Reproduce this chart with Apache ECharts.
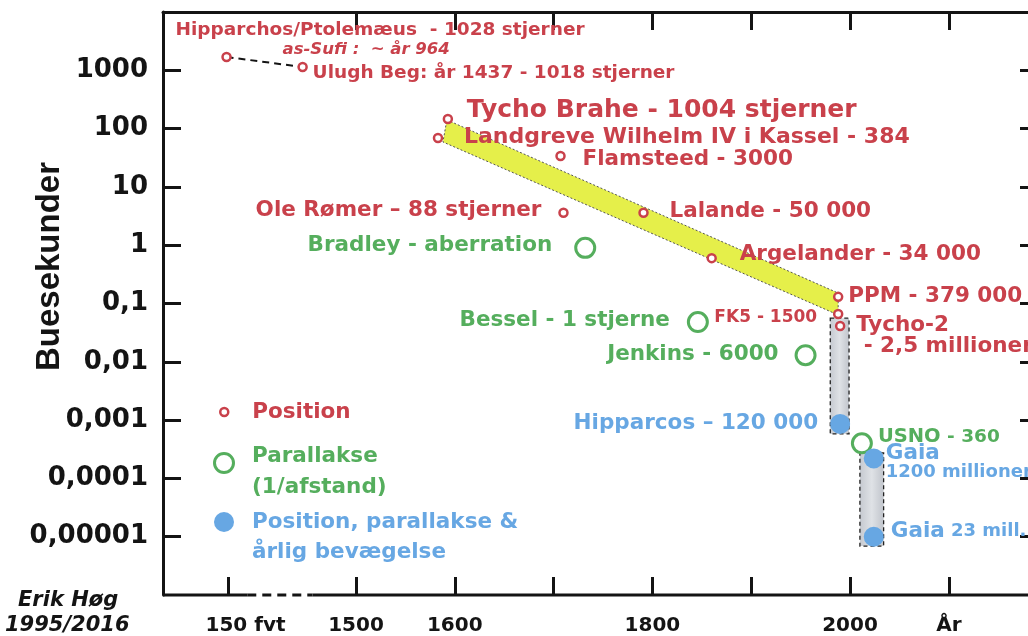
<!DOCTYPE html>
<html><head><meta charset="utf-8">
<script src="https://cdn.jsdelivr.net/npm/echarts@6/dist/echarts.min.js"></script>
<style>html,body{margin:0;padding:0;background:#fff}#c{width:1028px;height:636px}</style>
</head><body><div id="c"></div>
<script>
// ---------- data ----------
// x positions are years; the part before 1500 is a broken axis, so "150 fvt" has a stand-in position
const xTickValues = [1371, 1500, 1600, 1700, 1800, 1900, 2000, 2100];
const xTickLabels = ['150 fvt', '1500', '1600', '', '1800', '', '2000', 'År'];
const xTopTickValues = [1500, 1600, 1700, 1800, 1900, 2000, 2100];
const xBreak = [1390, 1456];
const yTickExponents = [-5, -4, -3, -2, -1, 0, 1, 2, 3];
const yTickLabels = ['0,00001', '0,0001', '0,001', '0,01', '0,1', '1', '10', '100', '1000'];

// Position (red small circles)
const posLabels = ['Hipparchos/Ptolemæus  - 1028 stjerner\nas-Sufi :  ~ år 964', 'Ulugh Beg: år 1437 - 1018 stjerner',
  'Tycho Brahe - 1004 stjerner', 'Landgreve Wilhelm IV i Kassel - 384', 'Flamsteed - 3000', 'Ole Rømer – 88 stjerner',
  'Lalande - 50 000', 'Argelander - 34 000', 'PPM - 379 000', 'FK5 - 1500', 'Tycho-2\n - 2,5 millioner'];
const posYears = [1369, 1446, 1593, 1583, 1707, 1710, 1791, 1860, 1988, 1988, 1990];
const posValues = [1690, 1140, 146, 69, 34, 3.6, 3.6, 0.6, 0.13, 0.066, 0.041];

// Parallax (green rings)
const parLabels = ['Bradley - aberration', 'Bessel - 1 stjerne', 'Jenkins - 6000', 'USNO - 360'];
const parYears = [1732, 1846, 1955, 2012];
const parValues = [0.9, 0.048, 0.013, 0.0004];

// Position, parallax & proper motion (blue dots)
const fullLabels = ['Hipparcos – 120 000', 'Gaia\n1200 millioner', 'Gaia 23 mill.'];
const fullYears = [1990, 2024, 2024];
const fullValues = [0.00086, 0.00022, 0.00001];

// yellow trend band (corners) and grey ranges [x0, x1, yTop, yBottom]
const bandCorners = [[1592, 141], [1988, 0.151], [1988, 0.0636], [1588, 59]];
const grayBoxes = [[1980, 1999, 0.056, 0.00058], [2010, 2034, 0.000273, 0.0000069]];

// ---------- styling ----------
const RED = '#c9414b', GREEN = '#55ae5d', BLUE = '#67a7e3', INK = '#141414';
const FONT = 'DejaVu Sans';
const XMIN = 1304.7, XMAX = 2187.2, YMIN = 1e-6, YMAX = 1e4;
const yTickValues = yTickExponents.map(e => Math.pow(10, e));

const posLayout = [
  {dx: -51, dy: -17, fs: 18.5, kind: 'hip'},
  {dx: 10, dy: 6, fs: 18.5},
  {dx: 19, dy: -9, fs: 25},
  {dx: 26, dy: -1, fs: 22},
  {dx: 22, dy: 4},
  {dx: -22, dy: -2, align: 'right'},
  {dx: 26, dy: -1},
  {dx: 28, dy: -4},
  {dx: 10, dy: 0},
  {dx: -21, dy: 4, fs: 17, align: 'right'},
  {dx: 16, dy: 9.5, lh: 21}
];
const parLayout = [
  {dx: -33, dy: -2, align: 'right'},
  {dx: -28, dy: -2, align: 'right'},
  {dx: -27, dy: -1, align: 'right'},
  {dx: 16, dy: -6, kind: 'usno'}
];
const fullLayout = [
  {dx: -22, dy: 0, align: 'right'},
  {dx: 12, dy: 4.5, kind: 'gaia'},
  {dx: 17, dy: -5, kind: 'gaia23'}
];

function mkLabel(text, lay, color) {
  const base = {fontFamily: FONT, fontWeight: 'bold', color: color};
  const lab = {
    show: true, position: 'inside', align: lay.align || 'left', verticalAlign: 'middle',
    offset: [lay.dx, lay.dy], color: color, fontFamily: FONT, fontWeight: 'bold',
    fontSize: lay.fs || 21.5, textBorderWidth: 0, formatter: text
  };
  if (lay.lh) lab.lineHeight = lay.lh;
  const lines = text.split('\n');
  if (lay.kind === 'hip') {
    lab.formatter = '{a|' + lines[0] + '}\n{b|' + lines[1] + '}';
    lab.rich = {
      a: Object.assign({}, base, {fontSize: 18.5, lineHeight: 20}),
      b: Object.assign({}, base, {fontSize: 16.5, fontStyle: 'italic', lineHeight: 20, padding: [0, 0, 0, 107]})
    };
  } else if (lay.kind === 'gaia') {
    lab.formatter = '{a|' + lines[0] + '}\n{b|' + lines[1] + '}';
    lab.rich = {
      a: Object.assign({}, base, {fontSize: 21.5, lineHeight: 19}),
      b: Object.assign({}, base, {fontSize: 18, lineHeight: 19})
    };
  } else if (lay.kind === 'gaia23') {
    const i = text.indexOf(' ');
    lab.formatter = '{a|' + text.slice(0, i) + '}{b|' + text.slice(i) + '}';
    lab.rich = {a: Object.assign({}, base, {fontSize: 21.5}), b: Object.assign({}, base, {fontSize: 18})};
  } else if (lay.kind === 'usno') {
    const i = text.indexOf(' ');
    lab.formatter = '{a|' + text.slice(0, i) + '}{b|' + text.slice(i) + '}';
    lab.rich = {a: Object.assign({}, base, {fontSize: 19.5}), b: Object.assign({}, base, {fontSize: 18.5})};
  }
  return lab;
}
function mkData(years, values, labels, layout, color) {
  return years.map((x, i) => ({value: [x, values[i]], label: mkLabel(labels[i], layout[i], color)}));
}

const axisLineSeg = (a, b, type) => ({
  type: 'line', data: [[a, YMIN], [b, YMIN]], symbol: 'none', clip: false, silent: true, z: 4,
  lineStyle: {color: INK, width: 3, type: type}
});

const legendText = (color, lh) => ({
  color: color, fontFamily: FONT, fontWeight: 'bold', fontSize: 21.5, lineHeight: lh,
  rich: {
    s: {fontSize: 8, lineHeight: 17},
    s2: {fontSize: 8, lineHeight: 30},
    t: {color: color, fontFamily: FONT, fontWeight: 'bold', fontSize: 21.5, lineHeight: lh}
  }
});

const chart = echarts.init(document.getElementById('c'), null, {renderer: 'canvas'});
chart.setOption({
  animation: false,
  backgroundColor: '#fff',
  title: {
    left: 5, top: 588, padding: 0,
    text: '{a|Erik Høg}\n{b|1995/2016}',
    textStyle: {
      rich: {
        a: {fontFamily: FONT, fontWeight: 'bold', fontStyle: 'italic', fontSize: 21, color: INK, lineHeight: 25, padding: [0, 0, 0, 13]},
        b: {fontFamily: FONT, fontWeight: 'bold', fontStyle: 'italic', fontSize: 21, color: INK, lineHeight: 25}
      }
    }
  },
  grid: {left: 163, right: -7, top: 12, bottom: 41, containLabel: false, outerBoundsMode: 'none'},
  legend: [
    {data: ['Position'], left: 219, top: 399, padding: 0, itemWidth: 46, itemHeight: 8, selectedMode: false,
      itemStyle: {borderWidth: 2.5},
      textStyle: {color: RED, fontFamily: FONT, fontWeight: 'bold', fontSize: 21.5, lineHeight: 26}},
    {data: ['Parallakse (1/afstand)'], left: 213, top: 423.5, padding: 0, itemWidth: 46, itemHeight: 19, selectedMode: false,
      itemStyle: {borderWidth: 3},
      formatter: () => '{s| }\n{t|Parallakse}\n{t|(1/afstand)}',
      textStyle: legendText(GREEN, 31)},
    {data: ['Position, parallakse & årlig bevægelse'], left: 214, top: 477, padding: 0, itemWidth: 46, itemHeight: 20, selectedMode: false,
      formatter: () => '{s2| }\n{t|Position, parallakse &}\n{t|årlig bevægelse}',
      textStyle: legendText(BLUE, 30)}
  ],
  xAxis: [
    {
      type: 'value', position: 'bottom', min: XMIN, max: XMAX,
      axisLine: {show: false}, splitLine: {show: false},
      axisTick: {show: true, inside: true, length: 18, lineStyle: {color: INK, width: 3}, customValues: xTickValues},
      axisLabel: {
        customValues: xTickValues, margin: 21, color: INK, fontFamily: FONT, fontWeight: 'bold', fontSize: 20,
        formatter: (v) => {
          let best = 0;
          xTickValues.forEach((t, i) => { if (Math.abs(t - v) < Math.abs(xTickValues[best] - v)) best = i; });
          const s = xTickLabels[best];
          return best === 0 ? '{f|' + s + '}' : s;
        },
        rich: {f: {padding: [0, 0, 0, 34], fontFamily: FONT, fontWeight: 'bold', fontSize: 20, color: INK}}
      }
    },
    {
      type: 'value', position: 'top', min: XMIN, max: XMAX,
      axisLine: {show: true, lineStyle: {color: INK, width: 3}}, splitLine: {show: false},
      axisTick: {show: true, inside: true, length: 18, lineStyle: {color: INK, width: 3}, customValues: xTopTickValues},
      axisLabel: {show: false}
    }
  ],
  yAxis: [
    {
      type: 'log', logBase: 10, min: YMIN, max: YMAX, position: 'left', splitNumber: 10,
      name: 'Buesekunder', nameLocation: 'middle', nameRotate: 90, nameGap: 97, nameMoveOverlap: false,
      nameTextStyle: {fontFamily: 'Liberation Sans', fontWeight: 'bold', fontSize: 33, color: INK, padding: [0, 0, 0, 74]},
      axisLine: {show: true, lineStyle: {color: INK, width: 3}}, splitLine: {show: false}, minorTick: {show: false},
      axisTick: {show: true, inside: true, length: 18, lineStyle: {color: INK, width: 3}, customValues: yTickValues},
      axisLabel: {
        customValues: yTickValues, margin: 15, color: INK, fontFamily: FONT, fontWeight: 'bold', fontSize: 26,
        formatter: (v) => {
          const e = Math.round(Math.log10(v));
          const i = yTickExponents.indexOf(e);
          return i < 0 ? '' : yTickLabels[i];
        }
      }
    },
    {
      type: 'log', logBase: 10, min: YMIN, max: YMAX, position: 'right', splitNumber: 10,
      axisLine: {show: true, lineStyle: {color: INK, width: 3}}, splitLine: {show: false},
      axisTick: {show: true, inside: true, length: 15, lineStyle: {color: INK, width: 3}, customValues: yTickValues},
      axisLabel: {show: false}
    }
  ],
  series: [
    {
      type: 'custom', name: 'band', coordinateSystem: 'cartesian2d', silent: true, z: 1,
      data: [bandCorners.flat()], encode: {x: [0, 2, 4, 6], y: [1, 3, 5, 7]},
      renderItem: (params, api) => {
        const pts = [];
        for (let i = 0; i < 4; i++) pts.push(api.coord([api.value(2 * i), api.value(2 * i + 1)]));
        return {type: 'polygon', shape: {points: pts},
          style: {fill: '#e5ef4a', stroke: '#555', lineWidth: 1, lineDash: [2, 2]}};
      }
    },
    {
      type: 'custom', name: 'ranges', coordinateSystem: 'cartesian2d', silent: true, z: 1,
      data: grayBoxes, encode: {x: [0, 1], y: [2, 3]},
      renderItem: (params, api) => {
        const a = api.coord([api.value(0), api.value(2)]);
        const b = api.coord([api.value(1), api.value(3)]);
        return {type: 'rect', shape: {x: a[0], y: a[1], width: b[0] - a[0], height: b[1] - a[1]},
          style: {
            fill: new echarts.graphic.LinearGradient(0, 0, 1, 0, [
              {offset: 0, color: '#c4c8cf'}, {offset: 0.5, color: '#dfe2e6'}, {offset: 1, color: '#bfc3ca'}]),
            stroke: '#222', lineWidth: 1.3, lineDash: [4, 3]
          }};
      }
    },
    {
      type: 'line', name: 'link', silent: true, z: 1, symbol: 'none',
      data: [[posYears[0], posValues[0]], [posYears[1], posValues[1]]],
      lineStyle: {color: INK, width: 2, type: [7, 5]}
    },
    axisLineSeg(XMIN, xBreak[0], 'solid'),
    axisLineSeg(xBreak[0], xBreak[1], [9, 6]),
    axisLineSeg(xBreak[1], XMAX, 'solid'),
    {
      type: 'scatter', name: 'Position', z: 3, symbol: 'circle', symbolSize: 8,
      itemStyle: {color: '#fff', borderColor: RED, borderWidth: 2.5, opacity: 1},
      emphasis: {disabled: true},
      data: mkData(posYears, posValues, posLabels, posLayout, RED)
    },
    {
      type: 'scatter', name: 'Parallakse (1/afstand)', z: 3, symbol: 'circle', symbolSize: 19,
      itemStyle: {color: '#fff', borderColor: GREEN, borderWidth: 3, opacity: 1},
      emphasis: {disabled: true},
      data: mkData(parYears, parValues, parLabels, parLayout, GREEN)
    },
    {
      type: 'scatter', name: 'Position, parallakse & årlig bevægelse', z: 3, symbol: 'circle', symbolSize: 20,
      itemStyle: {color: BLUE, opacity: 1},
      emphasis: {disabled: true},
      data: mkData(fullYears, fullValues, fullLabels, fullLayout, BLUE)
    }
  ]
});
</script></body></html>
